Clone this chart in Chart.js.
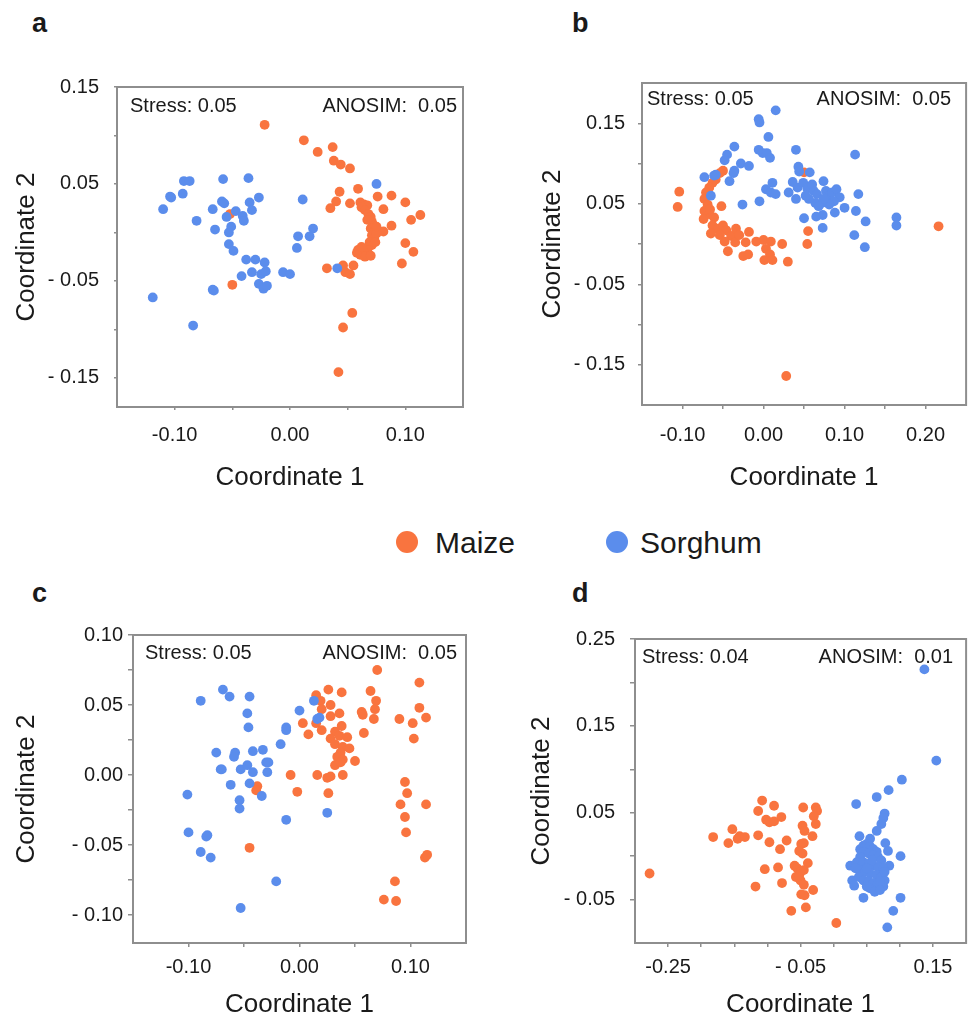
<!DOCTYPE html>
<html>
<head>
<meta charset="utf-8">
<script src="https://cdn.jsdelivr.net/npm/chart.js@4.4.1/dist/chart.umd.min.js"></script>
<style>
  html, body { margin: 0; padding: 0; background: #fff; }
  body { width: 971px; height: 1020px; position: relative; overflow: hidden;
         font-family: "Liberation Sans", Arial, sans-serif; color: #1a1a1a; }
  canvas { position: absolute; }
  .tag { position: absolute; font-size: 27px; font-weight: bold; line-height: 1; }
  .legend-dot { position: absolute; width: 22px; height: 22px; border-radius: 50%; }
  .legend-text { position: absolute; font-size: 30px; line-height: 1; }
</style>
</head>
<body>

<div class="tag" style="left:32px; top:10px;">a</div>
<div class="tag" style="left:572px; top:10px;">b</div>
<div class="tag" style="left:32px; top:580px;">c</div>
<div class="tag" style="left:572px; top:580px;">d</div>

<canvas id="panelA" width="480" height="440" style="left:0; top:60px;"></canvas>
<canvas id="panelB" width="451" height="440" style="left:520px; top:58px;"></canvas>
<canvas id="panelC" width="480" height="408" style="left:0; top:612px;"></canvas>
<canvas id="panelD" width="451" height="408" style="left:520px; top:612px;"></canvas>

<div class="legend-dot" style="left:396px; top:531px; background:#F9743F;"></div>
<div class="legend-text" style="left:435px; top:528px;">Maize</div>
<div class="legend-dot" style="left:606px; top:531px; background:#5B8DEC;"></div>
<div class="legend-text" style="left:640px; top:528px;">Sorghum</div>

<script>
// ─────────────────────────────────────────────
// NMDS coordinates  [coord1, coord2]
// ─────────────────────────────────────────────

const aMaize = [
  [-0.022,0.111],[0.012,0.095],[0.024,0.083],[0.037,0.088],[0.038,0.074],[0.044,0.070],[0.052,0.066],
  [0.043,0.042],[0.059,0.045],[0.040,0.032],[0.035,0.025],[0.052,0.030],[0.076,0.037],[0.088,0.038],
  [0.100,0.031],[0.081,0.024],[0.113,0.018],[0.105,0.013],[0.088,0.007],[0.081,0.001],[0.100,-0.011],
  [0.107,-0.020],[0.097,-0.032],[0.055,-0.034],[0.046,-0.034],[0.032,-0.037],[0.048,-0.041],[0.052,-0.043],
  [-0.052,0.019],[-0.050,-0.054],[0.054,-0.083],[0.046,-0.098],[0.042,-0.144],
  [0.061,0.031],[0.064,0.029],[0.067,0.028],[0.062,0.026],[0.065,0.023],[0.068,0.019],[0.070,0.016],
  [0.067,0.013],[0.071,0.011],[0.073,0.007],[0.070,0.004],[0.073,0.001],[0.071,-0.003],[0.073,-0.006],
  [0.069,-0.010],[0.071,-0.013],[0.068,-0.015],[0.067,-0.018],[0.064,-0.020],[0.059,-0.018],[0.061,-0.023],
  [0.065,-0.025],[0.070,-0.024],[0.058,-0.021],[0.062,-0.015],[0.075,-0.001],[0.074,-0.010],[0.075,0.006]
];
const aSorghum = [
  [0.075,0.050],[-0.092,0.053],[-0.087,0.053],[-0.104,0.037],[-0.103,0.036],[-0.093,0.040],[-0.110,0.024],
  [-0.081,0.012],[-0.058,0.055],[-0.036,0.056],[-0.059,0.032],[-0.057,0.030],[-0.067,0.024],[-0.035,0.031],
  [-0.027,0.036],[-0.033,0.023],[-0.047,0.022],[-0.055,0.016],[-0.041,0.017],[-0.040,0.012],[-0.065,0.003],
  [-0.051,0.006],[-0.053,0.000],[-0.053,-0.012],[-0.049,-0.019],[0.011,0.034],[0.020,0.004],[0.017,-0.004],
  [0.007,-0.004],[0.006,-0.016],[-0.038,-0.028],[-0.030,-0.028],[-0.022,-0.031],[-0.033,-0.041],[-0.025,-0.043],
  [-0.021,-0.040],[-0.027,-0.053],[-0.023,-0.058],[-0.020,-0.055],[-0.042,-0.045],[-0.006,-0.041],[0.000,-0.043],
  [-0.067,-0.059],[-0.066,-0.060],[0.041,-0.037],[-0.119,-0.067],[-0.084,-0.096]
];

const bMaize = [
  [-0.104,0.065],[-0.106,0.046],[-0.050,0.091],[-0.054,0.088],[-0.059,0.080],[-0.063,0.076],[-0.067,0.070],
  [-0.071,0.064],[-0.073,0.056],[-0.069,0.049],[-0.073,0.041],[-0.067,0.037],[-0.074,0.031],[-0.061,0.033],
  [-0.052,0.047],[-0.063,0.023],[-0.056,0.019],[-0.065,0.013],[-0.050,0.023],[-0.046,0.017],[-0.054,0.011],
  [-0.040,0.010],[-0.048,0.003],[-0.035,0.002],[-0.044,-0.009],[-0.034,0.019],[-0.030,0.011],[-0.022,0.002],
  [-0.018,0.015],[-0.009,0.003],[0.000,0.005],[0.009,0.003],[0.003,-0.006],[0.008,-0.013],[0.001,-0.020],
  [0.011,-0.020],[0.023,0.000],[0.030,-0.022],[-0.025,-0.015],[-0.019,-0.013],[0.055,0.016],[0.054,0.000],
  [0.050,0.089],[0.216,0.022],[0.028,-0.164],[-0.066,0.043]
];
const bSorghum = [
  [0.015,0.166],[-0.006,0.155],[-0.005,0.151],[0.006,0.133],[-0.006,0.117],[-0.001,0.113],[0.004,0.113],
  [0.008,0.107],[-0.036,0.121],[-0.045,0.111],[-0.048,0.104],[-0.028,0.100],[-0.018,0.097],[-0.036,0.091],
  [-0.037,0.088],[-0.042,0.078],[-0.073,0.083],[-0.061,0.085],[-0.059,0.086],[-0.065,0.060],[-0.026,0.049],
  [-0.005,0.053],[0.011,0.076],[0.003,0.068],[0.009,0.064],[0.015,0.062],[0.040,0.117],[0.043,0.096],
  [0.044,0.090],[0.057,0.089],[0.036,0.077],[0.042,0.070],[0.040,0.056],[0.031,0.064],[0.049,0.076],
  [0.054,0.069],[0.060,0.074],[0.062,0.066],[0.066,0.062],[0.074,0.078],[0.077,0.066],[0.081,0.060],
  [0.085,0.064],[0.090,0.068],[0.094,0.058],[0.087,0.053],[0.081,0.049],[0.072,0.051],[0.064,0.051],
  [0.056,0.056],[0.052,0.060],[0.074,0.056],[0.068,0.047],[0.100,0.045],[0.088,0.039],[0.073,0.036],
  [0.065,0.034],[0.050,0.032],[0.073,0.020],[0.113,0.111],[0.117,0.062],[0.114,0.041],[0.126,0.028],
  [0.112,0.011],[0.125,-0.004],[0.164,0.033],[0.164,0.023]
];

const cMaize = [
  [0.070,0.075],[0.108,0.066],[0.026,0.061],[0.038,0.059],[0.064,0.060],[0.069,0.053],[0.015,0.057],
  [0.019,0.053],[0.028,0.050],[0.020,0.047],[0.028,0.042],[0.036,0.044],[0.056,0.045],[0.057,0.043],
  [0.068,0.047],[0.067,0.040],[0.003,0.037],[0.015,0.037],[0.008,0.029],[0.020,0.032],[0.032,0.031],
  [0.038,0.035],[0.028,0.026],[0.036,0.028],[0.043,0.027],[0.058,0.030],[0.032,0.022],[0.039,0.020],
  [0.045,0.019],[0.037,0.016],[0.034,0.013],[0.039,0.011],[0.050,0.010],[0.032,0.007],[0.037,0.009],
  [0.016,0.000],[0.025,-0.002],[0.028,-0.001],[0.039,0.000],[-0.008,0.000],[-0.002,-0.012],[0.026,-0.013],
  [-0.038,-0.008],[-0.039,-0.011],[-0.045,-0.052],[0.090,0.040],[0.102,0.037],[0.108,0.048],[0.114,0.041],
  [0.103,0.026],[0.095,-0.005],[0.097,-0.013],[0.091,-0.021],[0.114,-0.021],[0.095,-0.030],[0.096,-0.041],
  [0.113,-0.059],[0.115,-0.057],[0.086,-0.076],[0.076,-0.089],[0.087,-0.090]
];
const cSorghum = [
  [-0.069,0.061],[-0.089,0.053],[-0.063,0.056],[-0.045,0.056],[-0.047,0.044],[-0.046,0.034],[-0.075,0.016],
  [-0.058,0.016],[-0.059,0.013],[-0.071,0.004],[-0.070,0.004],[-0.053,0.004],[-0.047,0.007],[-0.042,0.017],
  [-0.033,0.018],[-0.030,0.009],[-0.028,0.009],[-0.029,0.002],[-0.042,0.002],[-0.062,-0.007],[-0.045,-0.006],
  [-0.034,-0.015],[-0.054,-0.018],[-0.054,-0.024],[-0.101,-0.014],[-0.100,-0.041],[-0.083,-0.043],[-0.084,-0.044],
  [-0.089,-0.055],[-0.080,-0.059],[-0.012,-0.032],[-0.021,-0.076],[-0.053,-0.095],[0.025,-0.027],[0.000,0.046],
  [-0.017,0.022],[-0.012,0.034],[-0.012,0.032],[0.013,0.053],[0.016,0.040],[0.018,0.041]
];

const dMaize = [
  [-0.278,-0.020],[-0.182,0.022],[-0.159,0.015],[-0.153,0.031],[-0.145,0.020],[-0.142,0.023],[-0.134,0.022],
  [-0.114,0.024],[-0.114,0.052],[-0.108,0.064],[-0.097,0.016],[-0.090,0.058],[-0.102,0.042],[-0.097,0.039],
  [-0.090,0.040],[-0.079,0.045],[-0.071,0.018],[-0.081,0.008],[-0.104,-0.015],[-0.084,-0.013],[-0.118,-0.035],
  [-0.078,-0.031],[-0.064,-0.063],[-0.042,-0.059],[0.004,-0.077],[-0.046,0.056],[-0.047,0.035],[-0.044,0.029],
  [-0.027,0.056],[-0.025,0.052],[-0.030,0.046],[-0.027,0.037],[-0.032,0.023],[-0.049,0.014],[-0.045,0.015],
  [-0.052,0.006],[-0.047,0.003],[-0.039,-0.008],[-0.059,-0.011],[-0.055,-0.014],[-0.050,-0.018],[-0.057,-0.024],
  [-0.050,-0.028],[-0.045,-0.033],[-0.049,-0.044],[-0.044,-0.045],[-0.031,-0.039],[-0.052,-0.022],[-0.045,-0.016]
];
const dSorghum = [
  [0.137,0.215],[0.155,0.110],[0.103,0.088],[0.083,0.076],[0.065,0.068],[0.034,0.060],[0.077,0.049],
  [0.075,0.044],[0.072,0.037],[0.065,0.029],[0.039,0.023],[0.055,0.020],[0.078,0.015],[0.082,0.006],
  [0.101,0.000],[0.025,-0.011],[0.028,-0.028],[0.031,-0.034],[0.045,-0.048],[0.101,-0.048],[0.090,-0.063],
  [0.081,-0.082],[0.084,-0.011],
  [0.040,0.008],[0.045,0.012],[0.050,0.014],[0.055,0.011],[0.060,0.008],[0.065,0.005],[0.045,0.005],
  [0.053,0.003],[0.060,0.001],[0.067,-0.001],[0.072,-0.005],[0.040,-0.001],[0.035,-0.007],[0.045,-0.007],
  [0.053,-0.009],[0.060,-0.011],[0.067,-0.013],[0.075,-0.014],[0.040,-0.016],[0.048,-0.018],[0.055,-0.020],
  [0.065,-0.022],[0.072,-0.024],[0.077,-0.028],[0.038,-0.024],[0.045,-0.028],[0.053,-0.029],[0.060,-0.031],
  [0.067,-0.033],[0.075,-0.035],[0.055,-0.037],[0.062,-0.041],[0.070,-0.039],[0.050,-0.035],[0.033,-0.014],
  [0.077,-0.018],[0.058,-0.005],[0.050,-0.014],[0.070,-0.029]
];

// Tick positions and their labels (empty = unlabeled tick mark)
const aXTicks  = [-0.10, -0.05, 0, 0.05, 0.10];
const aXLabels = ['-0.10', '', '0.00', '', '0.10'];
const aYTicks  = [-0.15, -0.10, -0.05, 0, 0.05, 0.10, 0.15];
const aYLabels = ['- 0.15', '', '- 0.05', '', '0.05', '', '0.15'];

const bXTicks  = [-0.10, -0.05, 0, 0.05, 0.10, 0.15, 0.20];
const bXLabels = ['-0.10', '', '0.00', '', '0.10', '', '0.20'];
const bYTicks  = [-0.15, -0.10, -0.05, 0, 0.05, 0.10, 0.15];
const bYLabels = ['- 0.15', '', '- 0.05', '', '0.05', '', '0.15'];

const cXTicks  = [-0.10, -0.05, 0, 0.05, 0.10];
const cXLabels = ['-0.10', '', '0.00', '', '0.10'];
const cYTicks  = [-0.10, -0.075, -0.05, -0.025, 0, 0.025, 0.05, 0.075, 0.10];
const cYLabels = ['- 0.10', '', '- 0.05', '', '0.00', '', '0.05', '', '0.10'];

const dXTicks  = [-0.25, -0.20, -0.15, -0.10, -0.05, 0, 0.05, 0.10, 0.15];
const dXLabels = ['-0.25', '', '', '', '- 0.05', '', '', '', '0.15'];
const dYTicks  = [-0.05, 0, 0.05, 0.10, 0.15, 0.20, 0.25];
const dYLabels = ['- 0.05', '', '0.05', '', '0.15', '', '0.25'];

const stressValues = ['0.05', '0.05', '0.05', '0.04'];
const anosimValues = ['0.05', '0.05', '0.05', '0.01'];

// ─────────────────────────────────────────────
// Styling
// ─────────────────────────────────────────────

const COLORS = { maize: '#F9743F', sorghum: '#5B8DEC' };
const AXIS_COLOR = '#8e8e8e';
const TEXT_COLOR = '#1a1a1a';
const FONT = '"Liberation Sans", Arial, sans-serif';

// Box frame + Stress / ANOSIM notes inside the plot area
const frameAndNotes = {
    id: 'frameAndNotes',
    beforeDatasetsDraw(chart) {
        const { ctx, chartArea: ca } = chart;
        ctx.save();
        ctx.strokeStyle = AXIS_COLOR;
        ctx.lineWidth = 2;
        ctx.strokeRect(ca.left, ca.top, ca.right - ca.left, ca.bottom - ca.top);
        ctx.restore();
    },
    afterDraw(chart, args, opts) {
        const { ctx, chartArea: ca } = chart;
        ctx.save();
        ctx.fillStyle = TEXT_COLOR;
        ctx.font = '20px ' + FONT;
        ctx.textBaseline = 'alphabetic';
        const y = ca.top + opts.dy + 14;
        ctx.textAlign = 'left';
        ctx.fillText('Stress: ' + opts.stress, ca.left + opts.dl, y);
        ctx.textAlign = 'right';
        ctx.fillText('ANOSIM:  ' + opts.anosim, ca.right - opts.dr, y);
        ctx.restore();
    }
};

function toPoints(pairs) {
    return pairs.map(p => ({ x: p[0], y: p[1] }));
}

function buildAxis(ax) {
    return {
        type: 'linear',
        min: ax.min,
        max: ax.max,
        afterBuildTicks: scale => { scale.ticks = ax.ticks.map(v => ({ value: v })); },
        afterFit: scale => {
            if (scale.isHorizontal()) scale.height = ax.size;
            else scale.width = ax.size;
        },
        border: { display: true, color: AXIS_COLOR, width: 2 },
        grid: {
            display: true,
            drawOnChartArea: false,
            drawTicks: true,
            tickLength: ax.tick,
            color: AXIS_COLOR,
            lineWidth: 1.5
        },
        ticks: {
            autoSkip: false,
            maxRotation: 0,
            minRotation: 0,
            padding: ax.pad,
            color: TEXT_COLOR,
            font: { size: 20, family: FONT },
            callback: (value, index) => ax.labels[index]
        },
        title: {
            display: true,
            text: ax.title,
            color: TEXT_COLOR,
            font: { size: 26, family: FONT },
            padding: { top: ax.titlePad, bottom: ax.titlePad }
        }
    };
}

function createPanel(p) {
    const ctx = document.getElementById(p.id);
    return new Chart(ctx, {
        type: 'scatter',
        data: {
            datasets: [
                {
                    label: 'Sorghum',
                    data: toPoints(p.sorghum),
                    backgroundColor: COLORS.sorghum,
                    borderWidth: 0,
                    pointRadius: 4.9
                },
                {
                    label: 'Maize',
                    data: toPoints(p.maize),
                    backgroundColor: COLORS.maize,
                    borderWidth: 0,
                    pointRadius: 4.9
                }
            ]
        },
        options: {
            responsive: false,
            animation: false,
            devicePixelRatio: 1,
            layout: { padding: p.padding },
            plugins: {
                legend: { display: false },
                tooltip: { enabled: false },
                frameAndNotes: p.notes
            },
            scales: {
                x: buildAxis(p.x),
                y: buildAxis(p.y)
            }
        },
        plugins: [frameAndNotes]
    });
}

// ─────────────────────────────────────────────
// Panels
// ─────────────────────────────────────────────

createPanel({
    id: 'panelA', maize: aMaize, sorghum: aSorghum,
    padding: { top: 21, right: 17, left: 0, bottom: 0 },
    notes: { stress: stressValues[0], anosim: anosimValues[0], dl: 13, dr: 6, dy: 11 },
    x: { min: -0.15, max: 0.15, ticks: aXTicks, labels: aXLabels, size: 93, tick: 3, pad: 13, title: 'Coordinate 1', titlePad: 7 },
    y: { min: -0.18, max: 0.15, ticks: aYTicks, labels: aYLabels, size: 117, tick: 3, pad: 15, title: 'Coordinate 2', titlePad: 11 }
});

createPanel({
    id: 'panelB', maize: bMaize, sorghum: bSorghum,
    padding: { top: 21, right: 3, left: 0, bottom: 0 },
    notes: { stress: stressValues[1], anosim: anosimValues[1], dl: 5, dr: 15, dy: 8 },
    x: { min: -0.15, max: 0.25, ticks: bXTicks, labels: bXLabels, size: 93, tick: 4, pad: 14, title: 'Coordinate 1', titlePad: 5 },
    y: { min: -0.20, max: 0.20, ticks: bYTicks, labels: bYLabels, size: 122, tick: 4, pad: 13, title: 'Coordinate 2', titlePad: 17 }
});

createPanel({
    id: 'panelC', maize: cMaize, sorghum: cSorghum,
    padding: { top: 23, right: 14, left: 0, bottom: 0 },
    notes: { stress: stressValues[2], anosim: anosimValues[2], dl: 12, dr: 9, dy: 10 },
    x: { min: -0.15, max: 0.15, ticks: cXTicks, labels: cXLabels, size: 77, tick: 4, pad: 8, title: 'Coordinate 1', titlePad: 0 },
    y: { min: -0.12, max: 0.10, ticks: cYTicks, labels: cYLabels, size: 133, tick: 5, pad: 5, title: 'Coordinate 2', titlePad: 11 }
});

createPanel({
    id: 'panelD', maize: dMaize, sorghum: dSorghum,
    padding: { top: 21, right: 1, left: 0, bottom: 0 },
    notes: { stress: stressValues[3], anosim: anosimValues[3], dl: 7, dr: 13, dy: 10 },
    x: { min: -0.30, max: 0.20, ticks: dXTicks, labels: dXLabels, size: 77, tick: 4, pad: 8, title: 'Coordinate 1', titlePad: 0 },
    y: { min: -0.10, max: 0.25, ticks: dYTicks, labels: dYLabels, size: 115, tick: 5, pad: 15, title: 'Coordinate 2', titlePad: 6 }
});
</script>
</body>
</html>
